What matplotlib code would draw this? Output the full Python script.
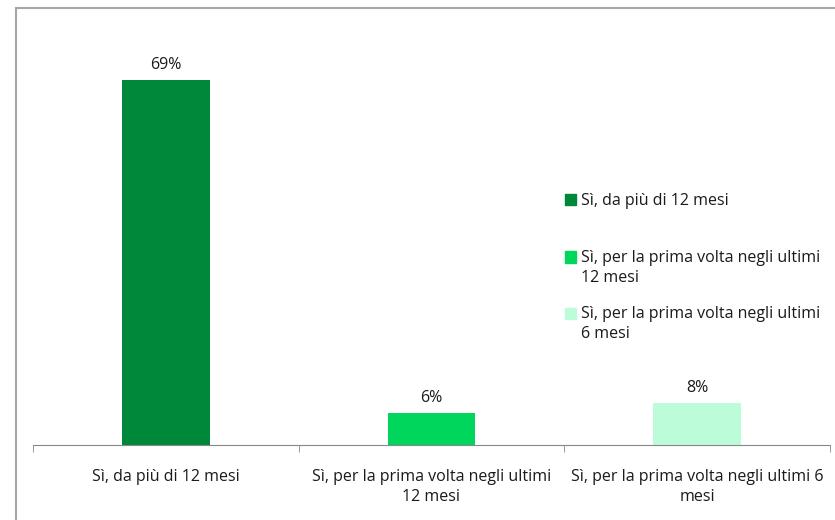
import matplotlib.pyplot as plt
from matplotlib.patches import Rectangle

categories = ["Sì, da più di 12 mesi",
              "Sì, per la prima volta negli ultimi\n12 mesi",
              "Sì, per la prima volta negli ultimi 6\nmesi"]
legendLabels = ["Sì, da più di 12 mesi",
                "Sì, per la prima volta negli ultimi\n12 mesi",
                "Sì, per la prima volta negli ultimi\n6 mesi"]
values = [69, 6, 8]
colors = ["#00883A", "#00D65C", "#BDFCD9"]

plt.rcParams['font.family'] = ['Open Sans', 'DejaVu Sans']
textColor = "#1a1a1a"
fs = 11.5
lineGap = 20  # pixels between wrapped lines

fig = plt.figure(figsize=(8.35, 5.2), dpi=100)
W, H = 835, 520

# outer chart frame
fig.patches.append(Rectangle((16 / W, -0.1), 1.2, 1 - 8 / H + 0.1, transform=fig.transFigure,
                             fill=False, edgecolor="#a6a6a6", linewidth=1.5))

ax = fig.add_axes([33 / W, 1 - 445 / H, (830 - 33) / W, 423 / H])
x = range(len(values))
bars = ax.bar(x, values, width=0.33, color=colors)
ax.set_xlim(-0.5, 2.5)
ax.set_ylim(0, 80)

for b, v in zip(bars, values):
    ax.annotate(f"{v}%", (b.get_x() + b.get_width() / 2, v), xytext=(0, 5),
                textcoords="offset points", ha="center", va="bottom",
                fontsize=fs, color=textColor)

for s in ["top", "right", "left"]:
    ax.spines[s].set_visible(False)
ax.spines["bottom"].set_color("#888888")
ax.set_yticks([])
ax.set_xticks(list(x))
ax.set_xticklabels(categories, fontsize=fs, color=textColor, linespacing=1.35)
ax.tick_params(axis="x", which="major", length=0, pad=17)
ax.set_xticks([-0.5, 0.5, 1.5, 2.5], minor=True)
ax.tick_params(axis="x", which="minor", length=5, color="#888888", direction="out")

# legend drawn by hand: square + label per series, one line per text row
legendY = [200, 257, 313]
for c, lab, y in zip(colors, legendLabels, legendY):
    fig.patches.append(Rectangle((565 / W, 1 - (y + 5.5) / H), 11 / W, 11 / H,
                                 transform=fig.transFigure, color=c))
    for i, line in enumerate(lab.split("\n")):
        fig.text(581 / W, 1 - (y + 5 + i * lineGap) / H, line, fontsize=fs,
                 color=textColor, ha="left", va="baseline",
                 transform=fig.transFigure)

fig.savefig("out.png", dpi=100)
